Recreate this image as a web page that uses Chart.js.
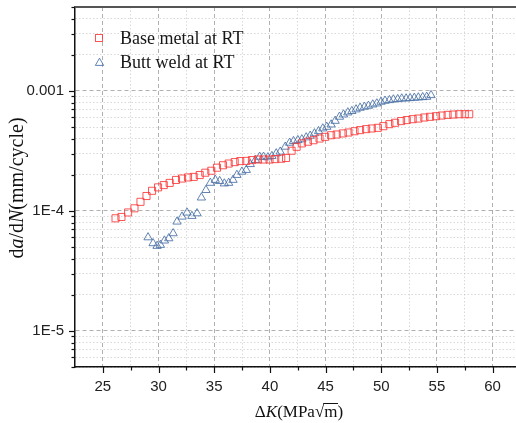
<!DOCTYPE html>
<html>
<head>
<meta charset="utf-8">
<script src="https://cdn.jsdelivr.net/npm/chart.js@4.4.1/dist/chart.umd.min.js"></script>
<style>
html,body{margin:0;padding:0;background:#fff;overflow:hidden;}
#wrap{width:516px;height:423px;}
</style>
</head>
<body>
<div id="wrap"><canvas id="c" width="516" height="423"></canvas></div>
<script>
// ---- data (ΔK in MPa√m, da/dN in mm/cycle) ----
const seriesNames = ['Base metal at RT', 'Butt weld at RT'];

const baseDK = [26.14,26.67,27.27,27.84,28.38,28.92,29.42,29.96,30.47,31.00,31.57,32.11,32.65,33.16,33.70,34.20,34.74,35.25,35.79,36.30,36.84,37.34,37.88,38.39,38.93,39.43,39.97,40.48,41.02,41.45,41.95,42.40,42.87,43.41,43.92,44.46,44.96,45.50,46.00,46.55,47.06,47.60,48.10,48.64,49.15,49.69,50.19,50.73,51.24,51.78,52.29,52.82,53.33,53.87,54.38,54.92,55.42,55.96,56.47,57.00,57.50,57.90];
const baseRate = [8.67e-5,8.9e-5,9.7e-5,1.05e-4,1.19e-4,1.33e-4,1.47e-4,1.57e-4,1.64e-4,1.71e-4,1.81e-4,1.86e-4,1.90e-4,1.92e-4,1.99e-4,2.08e-4,2.16e-4,2.29e-4,2.40e-4,2.48e-4,2.55e-4,2.60e-4,2.61e-4,2.65e-4,2.68e-4,2.68e-4,2.68e-4,2.70e-4,2.72e-4,2.76e-4,3.17e-4,3.42e-4,3.65e-4,3.77e-4,3.88e-4,4.01e-4,4.14e-4,4.27e-4,4.33e-4,4.42e-4,4.50e-4,4.61e-4,4.71e-4,4.80e-4,4.86e-4,4.92e-4,5.08e-4,5.28e-4,5.42e-4,5.60e-4,5.71e-4,5.81e-4,5.88e-4,6.00e-4,6.08e-4,6.15e-4,6.23e-4,6.31e-4,6.35e-4,6.39e-4,6.39e-4,6.39e-4];

const weldDK = [29.06,29.51,29.87,30.17,30.53,30.92,31.31,31.66,32.11,32.56,33.00,33.46,33.85,34.26,34.65,35.10,35.49,35.91,36.30,36.69,37.04,37.49,37.88,38.24,38.69,39.08,39.43,39.82,40.18,40.57,40.93,41.38,41.77,42.12,42.51,42.87,43.26,43.62,44.00,44.37,44.75,45.11,45.50,45.86,46.25,46.61,47.00,47.36,47.74,48.10,48.49,48.85,49.24,49.60,49.98,50.34,50.73,51.09,51.48,51.84,52.23,52.59,52.97,53.33,53.72,54.08,54.47];
const weldRate = [6.01e-5,5.37e-5,5.10e-5,5.20e-5,5.65e-5,5.90e-5,6.50e-5,8.13e-5,8.94e-5,9.66e-5,9.06e-5,9.53e-5,1.29e-4,1.49e-4,1.71e-4,1.81e-4,1.77e-4,1.69e-4,1.71e-4,1.81e-4,1.99e-4,2.12e-4,2.19e-4,2.45e-4,2.65e-4,2.82e-4,2.82e-4,2.79e-4,2.86e-4,3.01e-4,3.11e-4,3.42e-4,3.69e-4,3.81e-4,3.88e-4,3.94e-4,4.09e-4,4.22e-4,4.42e-4,4.61e-4,4.86e-4,5.01e-4,5.24e-4,5.62e-4,6.08e-4,6.35e-4,6.60e-4,6.78e-4,7.00e-4,7.22e-4,7.36e-4,7.50e-4,7.69e-4,7.85e-4,8.10e-4,8.26e-4,8.36e-4,8.47e-4,8.52e-4,8.63e-4,8.63e-4,8.69e-4,8.75e-4,8.80e-4,8.85e-4,8.91e-4,9.20e-4];

// ---- ticks ----
const xTickValues = [25,30,35,40,45,50,55,60];
const xTickLabels = ['25','30','35','40','45','50','55','60'];
const yTickValues = [1e-5,1e-4,1e-3];
const yTickLabels = ['1E-5','1E-4','0.001'];
const xMin = 22.5, xMax = 62.1;
const yMin = 5e-6, yMax = 5e-3;

// minor tick positions (axis decoration only)
const xMinor = xTickValues.map(v => v + 2.5).filter(v => v < xMax);
const yMinor = [];
[1e-6,1e-5,1e-4,1e-3].forEach(d => { for (let m = 2; m <= 9; m++) { const v = m*d; if (v >= yMin*0.999 && v <= yMax*1.001) yMinor.push(v); } });

const isMajor = (arr, v) => arr.some(a => Math.abs(a - v) <= Math.abs(a) * 1e-6);

const redStroke = 'rgba(250,55,55,0.85)';
const blueStroke = 'rgba(70,110,165,0.85)';

const majorGrid = 'rgba(150,150,150,0.75)';
const minorGrid = 'rgba(185,185,185,0.55)';

const decor = {
  id: 'decor',
  afterDraw(chart) {
    const {ctx, chartArea: a, scales: {x, y}} = chart;
    ctx.save();
    // top frame line
    ctx.strokeStyle = '#555'; ctx.lineWidth = 2;
    ctx.beginPath(); ctx.moveTo(a.left - 1, a.top); ctx.lineTo(a.right, a.top); ctx.stroke();
    // tick marks
    ctx.strokeStyle = '#111'; ctx.lineWidth = 1.2;
    x.ticks.forEach(t => {
      const px = Math.round(x.getPixelForValue(t.value)) + 0.5;
      const len = isMajor(xTickValues, t.value) ? 6 : 3.5;
      ctx.beginPath(); ctx.moveTo(px, a.bottom); ctx.lineTo(px, a.bottom + len); ctx.stroke();
    });
    y.ticks.forEach(t => {
      const py = Math.round(y.getPixelForValue(t.value)) + 0.5;
      const len = isMajor(yTickValues, t.value) ? 6 : 3.5;
      ctx.beginPath(); ctx.moveTo(a.left, py); ctx.lineTo(a.left - len, py); ctx.stroke();
    });

    // y title: da/dN(mm/cycle)
    const segsY = [['d',''],['a','italic '],['/d',''],['N','italic '],['(mm/cycle)','']];
    const fsY = 20;
    ctx.fillStyle = '#111';
    ctx.save();
    ctx.translate(18, (a.top + a.bottom) / 2 + 1);
    ctx.rotate(-Math.PI / 2);
    ctx.textBaseline = 'middle';
    let w = 0;
    segsY.forEach(s => { ctx.font = s[1] + fsY + 'px "Liberation Serif", "Times New Roman", serif'; w += ctx.measureText(s[0]).width; });
    let cx = -w / 2;
    segsY.forEach(s => { ctx.font = s[1] + fsY + 'px "Liberation Serif", "Times New Roman", serif'; ctx.textAlign = 'left'; ctx.fillText(s[0], cx, 0); cx += ctx.measureText(s[0]).width; });
    ctx.restore();

    // x title: ΔK(MPa√m)
    const fsX = 17;
    const fontN = fsX + 'px "Liberation Serif", "Times New Roman", serif';
    const fontI = 'italic ' + fontN;
    const segsX = [['Δ',fontN],['K',fontI],['(MPa',fontN],['√',fontN],['m',fontN],[')',fontN]];
    let wx = 0;
    segsX.forEach(s => { ctx.font = s[1]; wx += ctx.measureText(s[0]).width; });
    let sx = 299 - wx / 2;
    const base = 417;
    ctx.textBaseline = 'alphabetic'; ctx.textAlign = 'left';
    let mStart = 0, mEnd = 0;
    segsX.forEach(s => {
      ctx.font = s[1];
      const ww = ctx.measureText(s[0]).width;
      if (s[0] === 'm') { mStart = sx; mEnd = sx + ww; }
      ctx.fillText(s[0], sx, base);
      sx += ww;
    });
    ctx.strokeStyle = '#111'; ctx.lineWidth = 1;
    ctx.beginPath(); ctx.moveTo(mStart - 1, base - 13.5); ctx.lineTo(mEnd + 0.5, base - 13.5); ctx.stroke();

    // legend
    const legY = [38, 62];
    ctx.font = '18px "Liberation Serif", "Times New Roman", serif';
    ctx.textBaseline = 'middle';
    ctx.fillStyle = '#161616';
    ctx.fillText(seriesNames[0], 120, legY[0] + 1);
    ctx.fillText(seriesNames[1], 120, legY[1] + 1);
    ctx.lineWidth = 1;
    ctx.strokeStyle = redStroke;
    ctx.strokeRect(95.5, legY[0] - 3.5, 7, 7);
    ctx.strokeStyle = blueStroke;
    const r = 4.8, tx = 99.5, ty = legY[1] + 1;
    ctx.beginPath();
    ctx.moveTo(tx, ty - r);
    ctx.lineTo(tx + r * 0.866, ty + r / 2);
    ctx.lineTo(tx - r * 0.866, ty + r / 2);
    ctx.closePath(); ctx.stroke();
    ctx.restore();
  }
};

new Chart(document.getElementById('c'), {
  type: 'scatter',
  data: {
    datasets: [
      {
        label: seriesNames[0],
        data: baseDK.map((v, i) => ({x: v, y: baseRate[i]})),
        pointStyle: 'rect', pointRadius: 5, pointHoverRadius: 5,
        borderColor: redStroke, backgroundColor: 'rgba(0,0,0,0)', borderWidth: 1
      },
      {
        label: seriesNames[1],
        data: weldDK.map((v, i) => ({x: v, y: weldRate[i]})),
        pointStyle: 'triangle', pointRadius: 4.8, pointHoverRadius: 4.8,
        borderColor: blueStroke, backgroundColor: 'rgba(0,0,0,0)', borderWidth: 1
      }
    ]
  },
  options: {
    responsive: false,
    animation: false,
    devicePixelRatio: 1,
    layout: {autoPadding: false, padding: {top: 7, right: 0, left: 0, bottom: 0}},
    plugins: {legend: {display: false}, tooltip: {enabled: false}},
    scales: {
      x: {
        type: 'linear', min: xMin, max: xMax,
        afterBuildTicks: s => { s.ticks = xTickValues.concat(xMinor).sort((p, q) => p - q).map(v => ({value: v})); },
        afterFit: s => { s.height = 56; s.paddingLeft = 0; s.paddingRight = 0; },
        ticks: {
          autoSkip: false, maxRotation: 0, padding: 11, color: '#222',
          font: {family: '"Liberation Sans", Arial, sans-serif', size: 15},
          callback: v => { const i = xTickValues.findIndex(a => Math.abs(a - v) < 1e-9); return i >= 0 ? xTickLabels[i] : ''; }
        },
        grid: {
          drawTicks: false,
          color: c => (c.tick && isMajor(xTickValues, c.tick.value)) ? majorGrid : minorGrid,
          lineWidth: 1
        },
        border: {
          display: true, color: '#111', width: 1.5,
          dash: c => (c.tick ? (isMajor(xTickValues, c.tick.value) ? [4, 3] : [1.5, 2]) : [])
        }
      },
      y: {
        type: 'logarithmic', min: yMin, max: yMax,
        afterBuildTicks: s => { s.ticks = yTickValues.concat(yMinor).sort((p, q) => p - q).map(v => ({value: v})); },
        afterFit: s => { s.width = 75; s.paddingTop = 0; s.paddingBottom = 0; },
        ticks: {
          autoSkip: false, padding: 11, color: '#222',
          font: {family: '"Liberation Sans", Arial, sans-serif', size: 15},
          callback: v => { const i = yTickValues.findIndex(a => Math.abs(a - v) <= a * 1e-6); return i >= 0 ? yTickLabels[i] : ''; }
        },
        grid: {
          drawTicks: false,
          color: c => (c.tick && isMajor(yTickValues, c.tick.value)) ? majorGrid : minorGrid,
          lineWidth: 1
        },
        border: {
          display: true, color: '#111', width: 1.5,
          dash: c => (c.tick ? (isMajor(yTickValues, c.tick.value) ? [4, 3] : [1.5, 2]) : [])
        }
      }
    }
  },
  plugins: [decor]
});
</script>
</body>
</html>
